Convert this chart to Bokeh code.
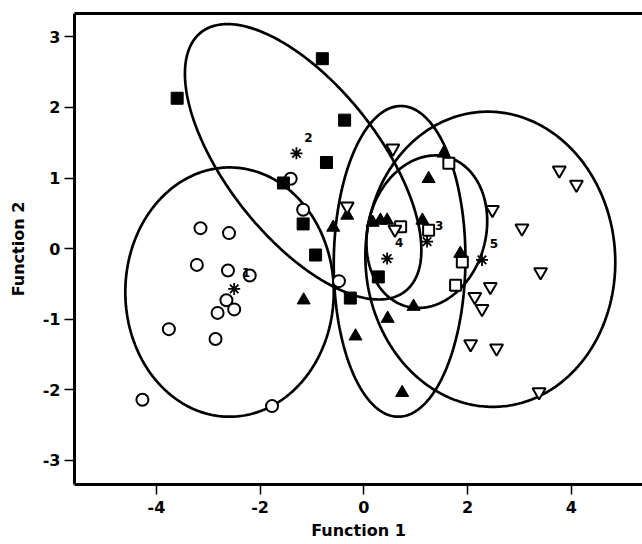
import numpy as np
from bokeh.plotting import figure
from bokeh.models import LinearAxis, FixedTicker, Range1d
from bokeh.embed import file_html
from bokeh.resources import INLINE
from bokeh.core.properties import value

# Group 1 (open circles)
g1_x = [-3.15, -2.60, -3.22, -2.62, -2.20, -2.65, -2.82, -2.50, -3.76, -2.86, -4.27, -1.77, -1.41, -1.17, -0.48]
g1_y = [0.29, 0.22, -0.23, -0.31, -0.38, -0.73, -0.91, -0.86, -1.14, -1.28, -2.14, -2.23, 0.99, 0.55, -0.46]
# Group 2 (filled squares)
g2_x = [-3.60, -0.80, -0.37, -0.72, -1.55, -1.17, -0.93, -0.26, 0.28]
g2_y = [2.13, 2.69, 1.82, 1.22, 0.93, 0.35, -0.09, -0.70, -0.40]
# Group 3 (open squares)
g3_x = [1.64, 0.71, 1.25, 1.90, 1.77]
g3_y = [1.21, 0.31, 0.26, -0.19, -0.52]
# Group 4 (filled triangles)
g4_x = [1.54, 1.25, -0.32, -0.59, 0.17, 0.32, 0.45, 1.13, 1.86, -1.16, 0.96, 0.46, -0.16, 0.74]
g4_y = [1.35, 0.99, 0.47, 0.30, 0.37, 0.40, 0.40, 0.40, -0.07, -0.73, -0.82, -0.99, -1.24, -2.04]
# Group 5 (open inverted triangles)
g5_x = [0.56, -0.32, 0.60, 2.48, 3.05, 3.77, 4.10, 3.41, 2.44, 2.14, 2.28, 2.06, 2.56, 3.38]
g5_y = [1.42, 0.60, 0.27, 0.55, 0.29, 1.11, 0.91, -0.33, -0.54, -0.68, -0.85, -1.35, -1.41, -2.03]

# Group centroids
cen_x = [-2.50, -1.30, 1.22, 0.45, 2.28]
cen_y = [-0.57, 1.35, 0.10, -0.14, -0.16]
cen_labels = ["1", "2", "3", "4", "5"]

# Group ellipses: centre, half extents, correlation
ell_cx = [-2.59, -1.17, 0.69, 1.215, 2.44]
ell_cy = [-0.615, 1.23, -0.18, 0.24, -0.15]
ell_rx = [2.01, 2.28, 1.27, 1.165, 2.41]
ell_ry = [1.765, 1.95, 2.20, 1.08, 2.09]
ell_rho = [0.0, -0.64, 0.02, 0.14, -0.02]

x_ticks = [-4, -2, 0, 2, 4]
x_tick_labels = ["-4", "-2", "0", "2", "4"]
y_ticks = [-3, -2, -1, 0, 1, 2, 3]
y_tick_labels = ["-3", "-2", "-1", "0", "1", "2", "3"]

p = figure(width=642, height=544,
           x_range=Range1d(-5.58, 5.375), y_range=Range1d(-3.34, 3.33),
           output_backend="svg", toolbar_location=None,
           min_border_left=74, min_border_right=0, min_border_top=13, min_border_bottom=60)
p.grid.visible = False
p.outline_line_color = None
p.background_fill_color = "white"

for ax in (p.xaxis[0], p.yaxis[0]):
    ax.axis_line_width = 3
    ax.axis_line_color = "black"
    ax.major_tick_out = 10
    ax.major_tick_in = 0
    ax.minor_tick_out = 0
    ax.minor_tick_in = 0
    ax.major_tick_line_width = 1.5
    ax.major_label_text_font = "DejaVu Sans"
    ax.major_label_text_font_size = "16px"
    ax.major_label_text_color = "black"
    ax.axis_label_text_font = "DejaVu Sans"
    ax.axis_label_text_font_style = "bold"
    ax.axis_label_text_font_size = "16px"
    ax.axis_label_text_color = "black"

p.xaxis.ticker = FixedTicker(ticks=x_ticks)
p.yaxis.ticker = FixedTicker(ticks=y_ticks)
p.xaxis.major_label_overrides = dict(zip(x_ticks, x_tick_labels))
p.yaxis.major_label_overrides = dict(zip(y_ticks, y_tick_labels))
p.xaxis.major_label_text_font_style = "bold"
p.yaxis.major_label_text_font_style = "bold"
p.xaxis.major_label_standoff = 6
p.yaxis.major_label_standoff = 4
p.xaxis.axis_label = "Function 1"
p.yaxis.axis_label = "Function 2"
p.xaxis.axis_label_standoff = 5
p.yaxis.axis_label_standoff = 12

top_axis = LinearAxis(ticker=FixedTicker(ticks=[]), axis_line_width=3, axis_line_color="black",
                      major_tick_out=0, major_tick_in=0, minor_tick_out=0, minor_tick_in=0,
                      major_label_text_font_size="0px")
p.add_layout(top_axis, "above")

t = np.linspace(0, 2 * np.pi, 400)
xs, ys = [], []
for cx, cy, rx, ry, rho in zip(ell_cx, ell_cy, ell_rx, ell_ry, ell_rho):
    xs.append(cx + rx * np.cos(t))
    ys.append(cy + ry * (rho * np.cos(t) + np.sqrt(1 - rho ** 2) * np.sin(t)))
p.multi_line(xs, ys, line_color="black", line_width=2.7)

p.scatter(g1_x, g1_y, marker="circle", size=12, line_color="black", line_width=2, fill_color="white")
p.scatter(g2_x, g2_y, marker="square", size=12, line_color="black", fill_color="black")
p.scatter(g3_x, g3_y, marker="square", size=11, line_color="black", line_width=2, fill_color="white")
p.scatter(g4_x, g4_y, marker="triangle", size=13, line_color="black", fill_color="black")
p.scatter(g5_x, g5_y, marker="inverted_triangle", size=13, line_color="black", line_width=2, fill_color="white")
p.scatter(cen_x, cen_y, marker="asterisk", size=12, line_color="black", line_width=1.8)
p.text(x=cen_x, y=cen_y, text=cen_labels, x_offset=12, y_offset=-16,
       text_font=value("DejaVu Sans"), text_font_style="bold", text_font_size="12px",
       text_align="center", text_baseline="middle", text_color="black")

open("out.html", "w").write(file_html(p, INLINE))
